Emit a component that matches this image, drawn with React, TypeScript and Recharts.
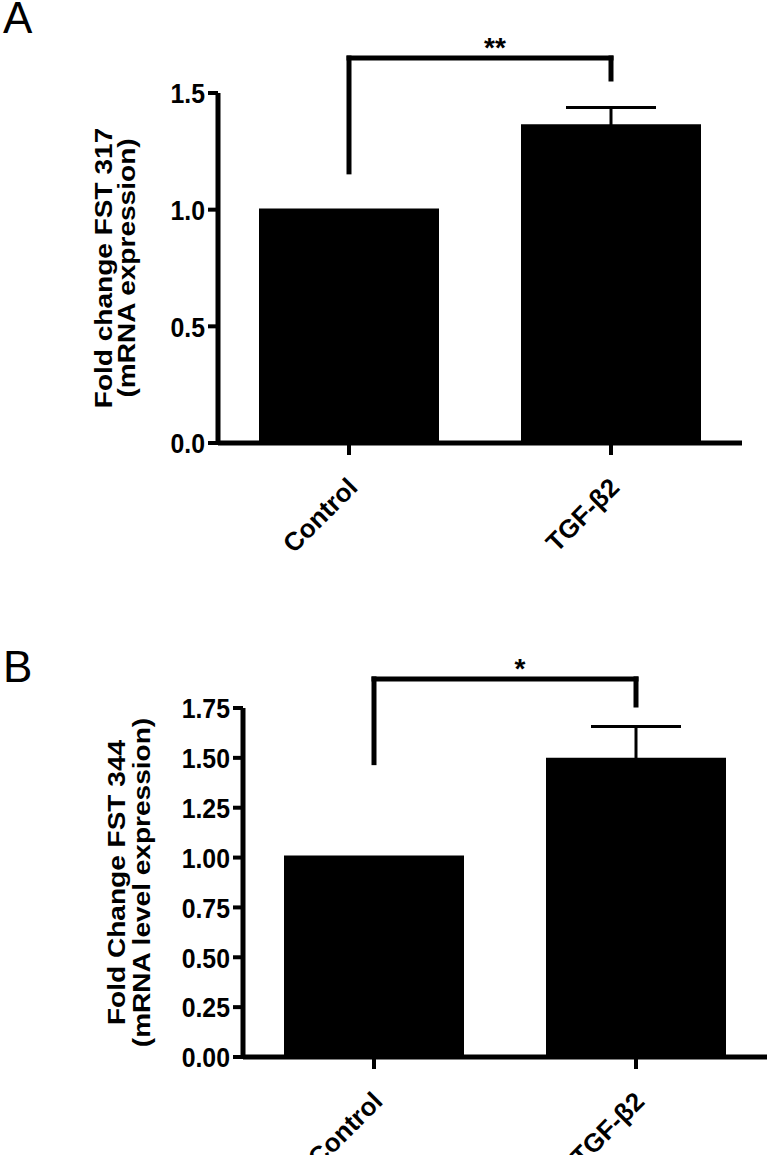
import React from "react"
import { BarChart, Bar, XAxis, YAxis, ErrorBar, ReferenceLine } from "recharts"

const FONT = "'Liberation Sans', Arial, Helvetica, sans-serif"

const categories = ["Control", "TGF-β2"]

// panel A: FST 317
const fst317Mean = [1.005, 1.366]
const fst317Sem = [0, 0.072]
const fst317Ticks = [0, 0.5, 1.0, 1.5]
// significance bracket: [bracket height, left leg end, right leg end]
const fst317Bracket = [1.65, 1.162, 1.56]

// panel B: FST 344
const fst344Mean = [1.01, 1.5]
const fst344Sem = [0, 0.157]
const fst344Ticks = [0, 0.25, 0.5, 0.75, 1.0, 1.25, 1.5, 1.75]
const fst344Bracket = [1.896, 1.476, 1.765]

const axisStyle = { stroke: "#000", strokeWidth: 5 }
const tickStyle = { stroke: "#000", strokeWidth: 4 }

function XTick({ x, y, payload }: any) {
  return (
    <text
      transform={`translate(${x + 10}, ${y + 32}) rotate(-45)`}
      textAnchor="end"
      fontSize={26}
      fontWeight="bold"
      fontFamily={FONT}
      fill="#000"
    >
      {payload.value}
    </text>
  )
}

function YTick({ x, y, payload, digits }: any) {
  return (
    <text
      transform={`translate(${x}, ${y}) scale(0.92, 1.05)`}
      textAnchor="end"
      dy="0.36em"
      fontSize={27}
      fontWeight="bold"
      fontFamily={FONT}
      fill="#000"
    >
      {Number(payload.value).toFixed(digits)}
    </text>
  )
}

function YLabel({ viewBox, lines, xs }: any) {
  const cy = viewBox ? viewBox.y + viewBox.height / 2 : 0
  return (
    <g>
      {lines.map((t: string, i: number) => (
        <text
          key={i}
          transform={`translate(${xs[i]}, ${cy}) scale(1, 1.22) rotate(-90)`}
          textAnchor="middle"
          fontSize={23}
          fontWeight="bold"
          fontFamily={FONT}
          fill="#000"
        >
          {t}
        </text>
      ))}
    </g>
  )
}

function StarLabel({ viewBox, text }: any) {
  if (!viewBox) return null
  return (
    <text
      x={viewBox.x + viewBox.width / 2 + 15}
      y={viewBox.y - 1}
      textAnchor="middle"
      fontSize={28}
      fontWeight="bold"
      fontFamily={FONT}
      fill="#000"
    >
      {text}
    </text>
  )
}

function Panel({ means, sems, ticks, digits, bracket, stars, lines, xs, height, top, left, right, bottom, xAxisHeight }: any) {
  const data = categories.map((name, i) => ({ name, mean: means[i], sem: sems[i] }))
  const yMax = ticks[ticks.length - 1]
  const [c0, c1] = categories
  const [bTop, bLeft, bRight] = bracket
  return (
    <BarChart width={771} height={height} data={data} margin={{ top, left: 0, right, bottom }}>
      <XAxis
        dataKey="name"
        height={xAxisHeight}
        interval={0}
        tickSize={12}
        axisLine={axisStyle}
        tickLine={tickStyle}
        tick={<XTick />}
      />
      <YAxis
        type="number"
        width={left}
        domain={[0, yMax]}
        ticks={ticks}
        allowDataOverflow
        tickSize={10}
        tickMargin={3}
        axisLine={axisStyle}
        tickLine={tickStyle}
        tick={<YTick digits={digits} />}
        label={<YLabel lines={lines} xs={xs} />}
      />
      <Bar dataKey="mean" fill="#000" barSize={180} isAnimationActive={false}>
        <ErrorBar dataKey="sem" width={45} stroke="#000" strokeWidth={3} direction="y" isAnimationActive={false} />
      </Bar>
      <ReferenceLine
        segment={[{ x: c0, y: bLeft }, { x: c0, y: bTop }]}
        stroke="#000"
        strokeWidth={5}
        strokeLinecap="square"
        ifOverflow="visible"
      />
      <ReferenceLine
        segment={[{ x: c0, y: bTop }, { x: c1, y: bTop }]}
        stroke="#000"
        strokeWidth={5}
        strokeLinecap="square"
        ifOverflow="visible"
        label={<StarLabel text={stars} />}
      />
      <ReferenceLine
        segment={[{ x: c1, y: bTop }, { x: c1, y: bRight }]}
        stroke="#000"
        strokeWidth={5}
        strokeLinecap="square"
        ifOverflow="visible"
      />
    </BarChart>
  )
}

export default function App() {
  return (
    <div style={{ position: "absolute", left: 0, top: 0, width: 771, height: 1155, background: "#fff", overflow: "hidden" }}>
      <div style={{ position: "absolute", left: 0, top: 0 }}>
        <Panel
          means={fst317Mean}
          sems={fst317Sem}
          ticks={fst317Ticks}
          digits={1}
          bracket={fst317Bracket}
          stars="**"
          lines={["Fold change FST 317", "(mRNA expression)"]}
          xs={[112, 135]}
          height={560}
          top={93}
          left={218}
          right={29}
          bottom={17}
          xAxisHeight={100}
        />
      </div>
      <div style={{ position: "absolute", left: 0, top: 560 }}>
        <Panel
          means={fst344Mean}
          sems={fst344Sem}
          ticks={fst344Ticks}
          digits={2}
          bracket={fst344Bracket}
          stars="*"
          lines={["Fold Change FST 344", "(mRNA level expression)"]}
          xs={[125, 150]}
          height={595}
          top={148}
          left={243}
          right={4}
          bottom={18}
          xAxisHeight={80}
        />
      </div>
      <svg width={771} height={1155} style={{ position: "absolute", left: 0, top: 0, pointerEvents: "none" }}>
        <text x={3} y={33} fontSize={44} fontFamily={FONT} fill="#000">A</text>
        <text x={3} y={682} fontSize={44} fontFamily={FONT} fill="#000">B</text>
      </svg>
    </div>
  )
}
